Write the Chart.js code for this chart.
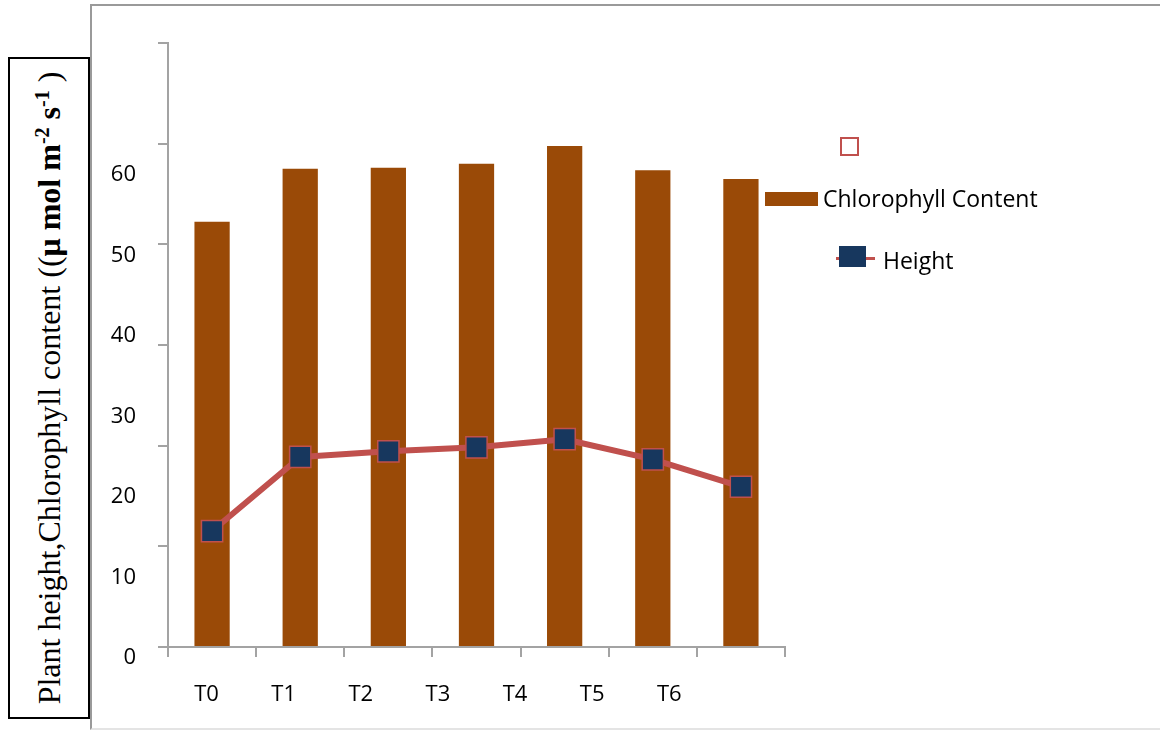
<!DOCTYPE html>
<html><head><meta charset="utf-8">
<script src="https://cdn.jsdelivr.net/npm/chart.js@4/dist/chart.umd.min.js"></script>
<style>
html,body{margin:0;padding:0;background:#fff;width:1160px;height:730px;overflow:hidden;font-family:"Open Sans",sans-serif;}
#frame{position:absolute;left:90px;top:4px;width:1080px;height:722px;border-top:2px solid #9a9a9a;border-left:2px solid #9a9a9a;border-bottom:2px solid #e4e4e4;}
#ytitle{position:absolute;left:8px;top:57px;width:78px;height:658px;border:2px solid #000;background:#fff;}
#ytitle span{position:absolute;left:50%;top:50%;transform:translate(-50%,-50%) rotate(-90deg);white-space:nowrap;font-family:"Liberation Serif",serif;font-size:32px;color:#000;}
#ytitle sup{font-size:20px;}
#wrap{position:absolute;left:0;top:0;width:1160px;height:730px;}
.lg{position:absolute;}
.lgtext{position:absolute;font-family:"Open Sans",sans-serif;font-size:23px;color:#000;line-height:28px;white-space:nowrap;}
</style>
</head><body>
<div id="frame"></div>
<div id="ytitle"><span>Plant height,Chlorophyll content ((<b>μ mol m<sup>-2</sup> s<sup>-1</sup></b> )</span></div>
<div id="wrap"><canvas id="c" width="1160" height="730"></canvas></div>
<div id="legend"></div>
<script>
// ---- data ----
const categories = ['T0', 'T1', 'T2', 'T3', 'T4', 'T5', 'T6'];
const xTickLabels = ['T0', 'T1', 'T2', 'T3', 'T4', 'T5', 'T6', ''];
const yTickLabels = [0, 10, 20, 30, 40, 50, 60];
const chlorophyll = [52.8, 59.4, 59.5, 60.0, 62.2, 59.2, 58.1];
const plantHeight = [14.4, 23.6, 24.3, 24.8, 25.8, 23.3, 19.9];
const seriesNames = ['Chlorophyll Content', 'Height'];

// ---- styles ----
const BAR = '#9A4A07';
const LINE = '#C0504D';
const NAVY = '#17375E';
const AXIS = '#a3a3a3';
const FONT = {family: 'Open Sans', size: 22};

new Chart(document.getElementById('c'), {
  data: {
    labels: categories,
    datasets: [
      {type: 'line', label: seriesNames[1], data: plantHeight, xAxisID: 'x', yAxisID: 'y',
       borderColor: LINE, borderWidth: 6, borderJoinStyle: 'round', borderCapStyle: 'round', tension: 0,
       pointStyle: 'rect', pointRadius: 15, pointBackgroundColor: NAVY, pointBorderColor: LINE,
       pointBorderWidth: 1.5, order: 0},
      {type: 'bar', label: seriesNames[0], data: chlorophyll, xAxisID: 'x', yAxisID: 'y',
       backgroundColor: BAR, borderWidth: 0, barPercentage: 0.4, categoryPercentage: 1, order: 1}
    ]
  },
  options: {
    responsive: false, animation: false, devicePixelRatio: 1,
    layout: {padding: {left: 100, top: 43, right: 375, bottom: 13}},
    plugins: {legend: {display: false}, tooltip: {enabled: false}},
    scales: {
      x: {type: 'category', position: 'bottom', weight: 0, offset: true,
          grid: {offset: true, drawOnChartArea: false, drawTicks: true, tickLength: 10, color: AXIS, lineWidth: 2},
          border: {color: AXIS, width: 2}, ticks: {display: false},
          afterFit(s) { s.height = 10; }},
      xL: {type: 'category', labels: xTickLabels, position: 'bottom', weight: 1, offset: true,
           grid: {display: false}, border: {display: false},
           ticks: {color: '#000', font: FONT, padding: 17, maxRotation: 0, autoSkip: false},
           afterFit(s) { s.height = 60; }},
      y: {type: 'linear', position: 'left', weight: 0, min: 0, max: 75,
          ticks: {display: false, stepSize: 12.5},
          grid: {drawOnChartArea: false, drawTicks: true, tickLength: 10, color: AXIS, lineWidth: 2},
          border: {color: AXIS, width: 2},
          afterFit(s) { s.width = 10; }},
      yL: {type: 'linear', position: 'left', weight: 1, min: 0, max: 75,
           grid: {display: false}, border: {display: false},
           ticks: {color: '#000', font: FONT, padding: 14, labelOffset: 11},
           afterBuildTicks(s) { s.ticks = yTickLabels.map(v => ({value: v})); },
           afterFit(s) { s.width = 58; }}
    }
  }
});

// ---- legend (HTML) ----
const lg = document.getElementById('legend');
lg.innerHTML =
  '<div class="lg" style="left:840px;top:137px;width:15px;height:15px;border:2px solid ' + LINE + ';"></div>' +
  '<div class="lg" style="left:765px;top:192px;width:53px;height:14px;background:' + BAR + ';"></div>' +
  '<div class="lgtext" style="left:823px;top:184px;">' + seriesNames[0] + '</div>' +
  '<div class="lg" style="left:836px;top:257px;width:39px;height:3px;background:' + LINE + ';"></div>' +
  '<div class="lg" style="left:839px;top:246px;width:27px;height:21px;background:' + NAVY + ';"></div>' +
  '<div class="lgtext" style="left:883px;top:246px;">' + seriesNames[1] + '</div>';
</script>
</body></html>
